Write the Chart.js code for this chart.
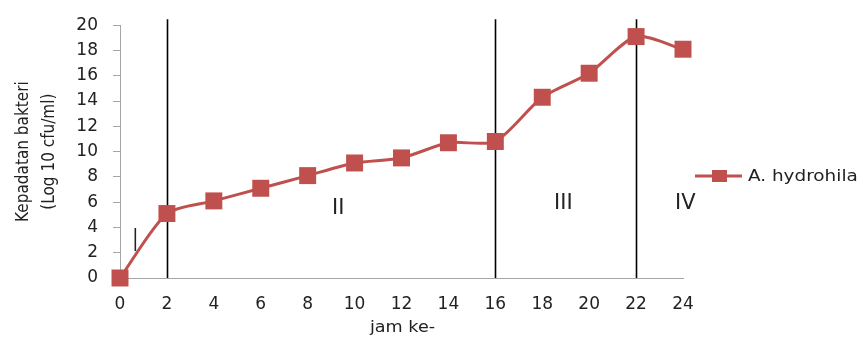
<!DOCTYPE html>
<html>
<head>
<meta charset="utf-8">
<script src="https://cdn.jsdelivr.net/npm/chart.js@4.4.1/dist/chart.umd.min.js"></script>
<style>
  html, body { margin: 0; padding: 0; background: #fff; }
  #wrap { width: 865px; height: 339px; position: relative; }
</style>
</head>
<body>
<div id="wrap"><canvas id="c" width="865" height="339"></canvas></div>
<script>
// Hours of incubation and bacterial density (log10 cfu/ml)
const hours = [0, 2, 4, 6, 8, 10, 12, 14, 16, 18, 20, 22, 24];
const density = [0, 5.1, 6.1, 7.1, 8.1, 9.1, 9.5, 10.7, 10.8, 14.3, 16.2, 19.1, 18.1];
const seriesName = 'A. hydrohila';

// Growth-phase boundaries and phase labels
const phaseBounds = [2, 16, 22];
const phaseLabels = [
  { text: 'I', x: 0.65, y: 2.8, tall: true },
  { text: 'II', x: 9.3, y: 5.5 },
  { text: 'III', x: 18.9, y: 5.9 },
  { text: 'IV', x: 24.1, y: 5.9 }
];

const yTicks = [0, 2, 4, 6, 8, 10, 12, 14, 16, 18, 20];
const xTitle = 'jam ke-';
const yTitle = ['Kepadatan bakteri', '(Log 10 cfu/ml)'];

const RED = '#C0504D';
const AXIS = '#A6A6A6';
const TEXT = '#222';
const FONT = '"DejaVu Sans", sans-serif';
const NARROW = '"Liberation Sans Narrow", "DejaVu Sans Condensed", sans-serif';

const overlay = {
  id: 'overlay',
  beforeDatasetsDraw(chart) {
    const { ctx, scales: { x, y } } = chart;
    ctx.save();
    ctx.strokeStyle = '#000';
    ctx.lineWidth = 1.6;
    phaseBounds.forEach(v => {
      const px = Math.round(x.getPixelForValue(v)) + 0.5;
      ctx.beginPath();
      ctx.moveTo(px, y.getPixelForValue(20) - 6);
      ctx.lineTo(px, y.getPixelForValue(0));
      ctx.stroke();
    });
    ctx.restore();
  },
  afterDraw(chart) {
    const { ctx, scales: { x, y } } = chart;
    ctx.save();
    ctx.fillStyle = TEXT;
    ctx.textAlign = 'center';
    ctx.textBaseline = 'middle';

    // phase numerals
    phaseLabels.forEach(p => {
      const px = x.getPixelForValue(p.x);
      const py = y.getPixelForValue(p.y);
      ctx.save();
      ctx.translate(px, py);
      if (p.tall) ctx.scale(0.75, 1.5);
      ctx.font = '21px ' + FONT;
      ctx.fillText(p.text, 0, 0);
      ctx.restore();
    });

    // x axis title
    ctx.save();
    ctx.translate((x.left + x.right) / 2 + 1, 328);
    ctx.scale(1.1, 1);
    ctx.font = '16px ' + FONT;
    ctx.fillText(xTitle, 0, 0);
    ctx.restore();

    // y axis title, two rotated lines
    const cy = (y.top + y.bottom) / 2;
    ctx.font = '17px ' + NARROW;
    [24, 50].forEach((cx, i) => {
      ctx.save();
      ctx.translate(cx, cy);
      ctx.rotate(-Math.PI / 2);
      ctx.fillText(yTitle[i], 0, 0);
      ctx.restore();
    });

    // legend entry
    const ly = 176;
    ctx.strokeStyle = RED;
    ctx.lineWidth = 3;
    ctx.beginPath();
    ctx.moveTo(695, ly);
    ctx.lineTo(742, ly);
    ctx.stroke();
    ctx.fillStyle = RED;
    ctx.fillRect(712, ly - 6, 15, 12);
    ctx.fillStyle = TEXT;
    ctx.textAlign = 'left';
    ctx.save();
    ctx.translate(748, ly + 1);
    ctx.scale(1.15, 1);
    ctx.font = '16px ' + FONT;
    ctx.fillText(seriesName, 0, 0);
    ctx.restore();

    ctx.restore();
  }
};

new Chart(document.getElementById('c'), {
  type: 'line',
  data: {
    datasets: [{
      label: seriesName,
      data: hours.map((h, i) => ({ x: h, y: density[i] })),
      borderColor: RED,
      backgroundColor: RED,
      borderWidth: 3,
      tension: 0.25,
      pointStyle: 'rect',
      pointRadius: 12,
      pointHoverRadius: 12,
      pointBorderWidth: 0,
      clip: false
    }]
  },
  options: {
    responsive: false,
    animation: false,
    events: [],
    layout: { padding: { top: 18, right: 182, bottom: 0, left: 0 } },
    plugins: { legend: { display: false }, tooltip: { enabled: false } },
    scales: {
      x: {
        type: 'linear',
        min: 0,
        max: 24,
        afterFit(s) { s.height = 61; },
        afterBuildTicks(s) { s.ticks = hours.map(v => ({ value: v })); },
        grid: { display: false, drawTicks: false },
        border: { display: true, color: AXIS, width: 1, dash: [3, 2] },
        ticks: { padding: 16, color: TEXT, font: { family: FONT, size: 17 }, maxRotation: 0, autoSkip: false }
      },
      y: {
        min: 0,
        max: 20,
        afterFit(s) { s.width = 120; },
        afterBuildTicks(s) { s.ticks = yTicks.map(v => ({ value: v })); },
        grid: { display: true, drawOnChartArea: false, drawTicks: true, tickLength: 7, color: AXIS },
        border: { display: true, color: AXIS, width: 1, dash: [2, 1] },
        ticks: { padding: 15, color: TEXT, font: { family: FONT, size: 17 } }
      }
    }
  },
  plugins: [overlay]
});
</script>
</body>
</html>
